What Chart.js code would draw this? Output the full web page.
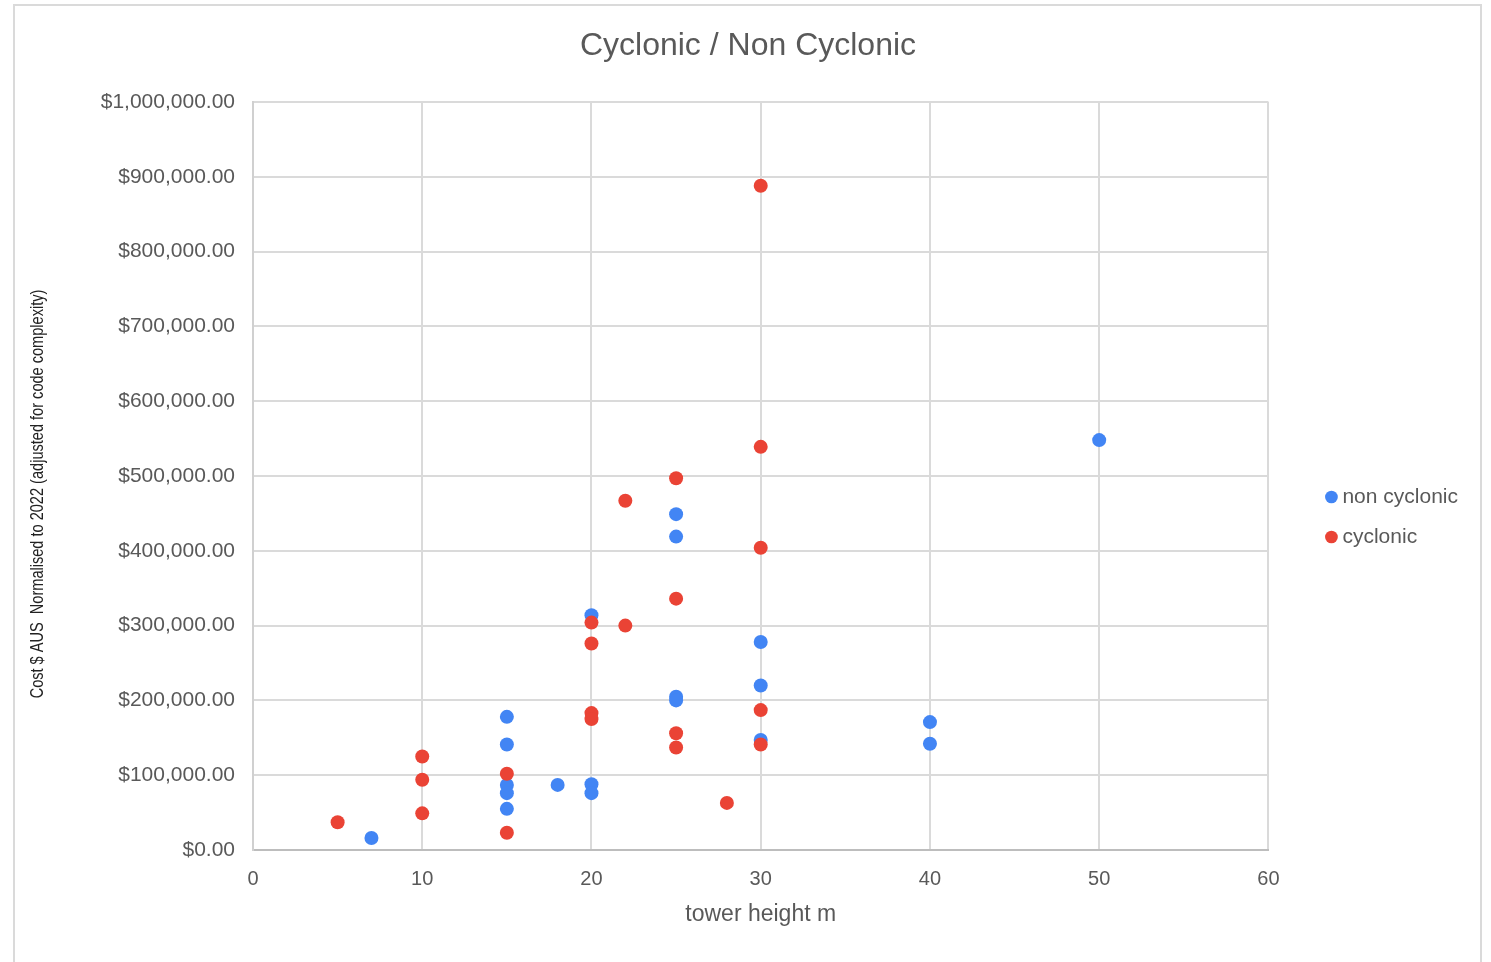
<!DOCTYPE html>
<html>
<head>
<meta charset="utf-8">
<script src="https://cdn.jsdelivr.net/npm/chart.js@4.4.1/dist/chart.umd.min.js"></script>
<style>
  html, body { margin: 0; padding: 0; background: #fff; overflow: hidden; }
  #wrap { position: relative; width: 1491px; height: 962px; }
  #frame { position: absolute; left: 13px; top: 4px; width: 1469px; height: 1000px; border: 2px solid #dadada; box-sizing: border-box; }
  canvas { position: absolute; left: 0; top: 0; }
</style>
</head>
<body>
<div id="wrap">
  <div id="frame"></div>
  <canvas id="c" width="1491" height="962"></canvas>
</div>
<script>
// ---- data ----
const nonCyclonicX = [7, 15, 15, 15, 15, 15, 18, 20, 20, 20, 25, 25, 25, 25, 30, 30, 30, 40, 40, 50];
const nonCyclonicY = [16000, 178000, 141000, 87000, 76000, 55000, 87000, 314000, 88000, 76000,
                      449000, 419000, 205000, 200000, 278000, 220000, 147000, 171000, 142000, 548000];
const cyclonicX = [5, 10, 10, 10, 15, 15, 20, 20, 20, 20, 22, 22, 25, 25, 25, 25, 28, 30, 30, 30, 30, 30];
const cyclonicY = [37000, 125000, 94000, 49000, 102000, 23000, 304000, 276000, 183000, 175000,
                   467000, 300000, 497000, 336000, 156000, 137000, 63000, 888000, 539000, 404000, 187000, 141000];
const xTickValues = [0, 10, 20, 30, 40, 50, 60];
const yTickValues = [0, 100000, 200000, 300000, 400000, 500000, 600000, 700000, 800000, 900000, 1000000];
const seriesNames = ['non cyclonic', 'cyclonic'];
const chartTitle = 'Cyclonic / Non Cyclonic';
const xTitle = 'tower height m';
const yTitle = 'Cost $ AUS  Normalised to 2022 (adjusted for code complexity)';

const toPts = (xs, ys) => xs.map((x, i) => ({x: x, y: ys[i]}));
const fmtMoney = v => '$' + Number(v).toLocaleString('en-US', {minimumFractionDigits: 2, maximumFractionDigits: 2});

const FONT = "'Liberation Sans', Arial, sans-serif";
const GRAY = '#595959';

// y-axis title drawn in a condensed (narrow) style, like the reference
const narrowYTitle = {
  id: 'narrowYTitle',
  afterDraw(chart) {
    const ctx = chart.ctx;
    ctx.save();
    ctx.translate(38, 494);
    ctx.rotate(-Math.PI / 2);
    ctx.scale(0.809, 1);
    ctx.font = "18px 'Liberation Sans', Arial, sans-serif";
    ctx.fillStyle = '#222';
    ctx.textAlign = 'center';
    ctx.textBaseline = 'middle';
    ctx.fillText(yTitle, 0, 0);
    ctx.restore();
  }
};

new Chart(document.getElementById('c'), {
  type: 'scatter',
  data: {
    datasets: [
      { label: seriesNames[1], data: toPts(cyclonicX, cyclonicY),
        backgroundColor: '#ea4335', borderWidth: 0, pointRadius: 7, pointHoverRadius: 7 },
      { label: seriesNames[0], data: toPts(nonCyclonicX, nonCyclonicY),
        backgroundColor: '#4285f4', borderWidth: 0, pointRadius: 7, pointHoverRadius: 7 }
    ]
  },
  plugins: [narrowYTitle],
  options: {
    responsive: false,
    animation: false,
    layout: { padding: { top: 0, left: 28, right: 23, bottom: 26 } },
    plugins: {
      title: {
        display: true, text: chartTitle, color: GRAY,
        font: { family: FONT, size: 32, weight: 'normal' },
        padding: { top: 27, bottom: 36.6 }
      },
      legend: {
        position: 'right',
        fullSize: false,
        reverse: true,
        align: 'center',
        title: { display: true, text: ' ', padding: { top: 80, bottom: 0 }, font: { size: 1.67 } },
        labels: {
          usePointStyle: true, pointStyle: 'circle', boxWidth: 1, boxHeight: 9,
          padding: 19, color: GRAY,
          font: { family: FONT, size: 21 }
        }
      },
      tooltip: { enabled: false }
    },
    scales: {
      x: {
        type: 'linear', min: 0, max: 60,
        afterBuildTicks: s => { s.ticks = xTickValues.map(v => ({value: v})); },
        afterFit: s => { s.height = 86; },
        grid: { color: '#dadada', lineWidth: 2, drawTicks: false },
        border: { color: '#bdbdbd', width: 2 },
        ticks: { color: GRAY, padding: 17, font: { family: FONT, size: 20 } },
        title: { display: true, text: xTitle, color: GRAY, padding: { top: 0, bottom: 8 },
                 font: { family: FONT, size: 23 } }
      },
      y: {
        type: 'linear', min: 0, max: 1000000,
        afterBuildTicks: s => { s.ticks = yTickValues.map(v => ({value: v})); },
        afterFit: s => { s.width = 225; },
        grid: { color: '#dadada', lineWidth: 2, drawTicks: false },
        border: { color: '#d0d0d0', width: 2 },
        ticks: { color: GRAY, padding: 18, font: { family: FONT, size: 21 }, callback: v => fmtMoney(v) },
        title: { display: false }
      },
      spacer: {
        type: 'linear', position: 'right', display: true,
        afterFit: s => { s.width = 43.5; },
        grid: { display: false }, border: { display: false },
        ticks: { display: false }
      }
    }
  }
});
</script>
</body>
</html>
